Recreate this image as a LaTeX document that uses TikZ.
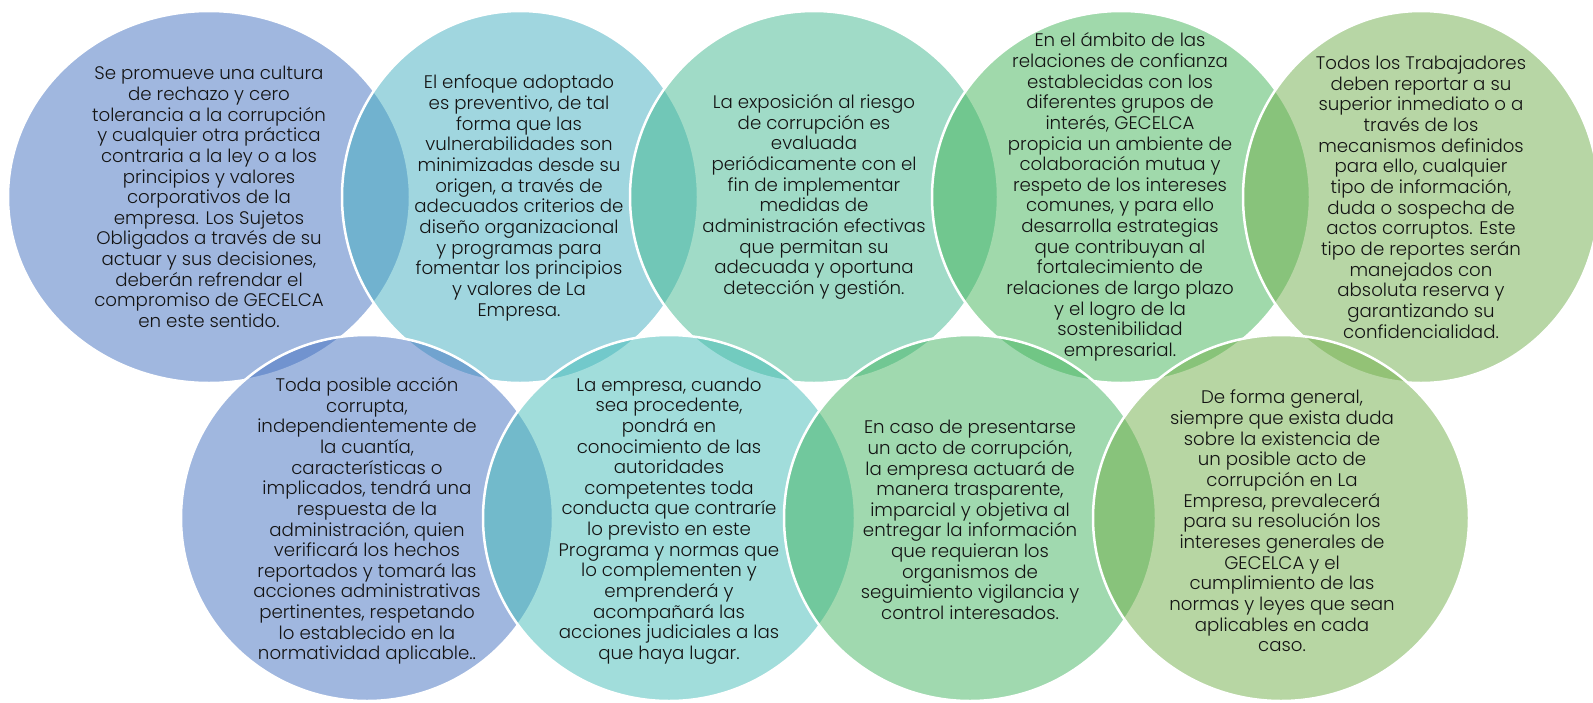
\documentclass[tikz,border=0pt]{standalone}
\usepackage{fontspec}
\setmainfont{Poppins}[UprightFont=* Light]
\usetikzlibrary{shapes.geometric}
\definecolor{cT1}{RGB}{67,113,193}
\definecolor{cT2}{RGB}{67,175,193}
\definecolor{cT3}{RGB}{67,185,145}
\definecolor{cT4}{RGB}{67,181,89}
\definecolor{cT5}{RGB}{113,175,77}
\definecolor{cB1}{RGB}{67,113,193}
\definecolor{cB2}{RGB}{69,189,185}
\definecolor{cB3}{RGB}{67,181,97}
\definecolor{cB4}{RGB}{113,175,73}
\definecolor{txt}{RGB}{20,20,20}
\tikzset{
  bubble/.style={ellipse, draw=white, line width=2.5pt, fill opacity=0.5, inner sep=0pt},
  label text/.style={align=center, text=txt, inner sep=0pt,
    font=\fontsize{18.2pt}{20.65pt}\selectfont}
}
\begin{document}
\begin{tikzpicture}[x=1pt,y=-1pt]
\clip (0,0) rectangle (1593,702);
\fill[white] (0,0) rectangle (1593,702);
% top row
\node[bubble, fill=cT1, minimum width=402pt, minimum height=372pt] (T1) at (209,197) {};
\node[bubble, fill=cT2, minimum width=356pt, minimum height=372pt] (T2) at (520,197) {};
\node[bubble, fill=cT3, minimum width=368pt, minimum height=372pt] (T3) at (814,197) {};
\node[bubble, fill=cT4, minimum width=378pt, minimum height=372pt] (T4) at (1121,197) {};
\node[bubble, fill=cT5, minimum width=356pt, minimum height=372pt] (T5) at (1421,197) {};
% bottom row
\node[bubble, fill=cB1, minimum width=372pt, minimum height=366pt] (B1) at (367,518) {};
\node[bubble, fill=cB2, minimum width=372pt, minimum height=366pt] (B2) at (669,518) {};
\node[bubble, fill=cB3, minimum width=372pt, minimum height=366pt] (B3) at (970,518) {};
\node[bubble, fill=cB4, minimum width=376pt, minimum height=366pt] (B4) at (1281,518) {};
% texts
\node[label text] (tT1) at (209,197) {Se promueve una cultura\\de rechazo y cero\\tolerancia a la corrupción\\y cualquier otra práctica\\contraria a la ley o a los\\principios y valores\\corporativos de la\\empresa. Los Sujetos\\Obligados a través de su\\actuar y sus decisiones,\\deberán refrendar el\\compromiso de GECELCA\\en este sentido.};
\node[label text] (tT2) at (519,198) {El enfoque adoptado\\es preventivo, de tal\\forma que las\\vulnerabilidades son\\minimizadas desde su\\origen, a través de\\adecuados criterios de\\diseño organizacional\\y programas para\\fomentar los principios\\y valores de La\\Empresa.};
\node[label text] (tT3) at (814,197) {La exposición al riesgo\\de corrupción es\\evaluada\\periódicamente con el\\fin de implementar\\medidas de\\administración efectivas\\que permitan su\\adecuada y oportuna\\detección y gestión.};
\node[label text] (tT4) at (1120,197) {En el ámbito de las\\relaciones de confianza\\establecidas con los\\diferentes grupos de\\interés, GECELCA\\propicia un ambiente de\\colaboración mutua y\\respeto de los intereses\\comunes, y para ello\\desarrolla estrategias\\que contribuyan al\\fortalecimiento de\\relaciones de largo plazo\\y el logro de la\\sostenibilidad\\empresarial.};
\node[label text] (tT5) at (1421,197) {Todos los Trabajadores\\deben reportar a su\\superior inmediato o a\\través de los\\mecanismos definidos\\para ello, cualquier\\tipo de información,\\duda o sospecha de\\actos corruptos. Este\\tipo de reportes serán\\manejados con\\absoluta reserva y\\garantizando su\\confidencialidad.};
\node[label text] (tB1) at (367,521) {Toda posible acción\\corrupta,\\independientemente de\\la cuantía,\\características o\\implicados, tendrá una\\respuesta de la\\administración, quien\\verificará los hechos\\reportados y tomará las\\acciones administrativas\\pertinentes, respetando\\lo establecido en la\\normatividad aplicable..};
\node[label text] (tB2) at (669,521) {La empresa, cuando\\sea procedente,\\pondrá en\\conocimiento de las\\autoridades\\competentes toda\\conducta que contraríe\\lo previsto en este\\Programa y normas que\\lo complementen y\\emprenderá y\\acompañará las\\acciones judiciales a las\\que haya lugar.};
\node[label text] (tB3) at (970,520) {En caso de presentarse\\un acto de corrupción,\\la empresa actuará de\\manera trasparente,\\imparcial y objetiva al\\entregar la información\\que requieran los\\organismos de\\seguimiento vigilancia y\\control interesados.};
\node[label text] (tB4) at (1282,521) {De forma general,\\siempre que exista duda\\sobre la existencia de\\un posible acto de\\corrupción en La\\Empresa, prevalecerá\\para su resolución los\\intereses generales de\\GECELCA y el\\cumplimiento de las\\normas y leyes que sean\\aplicables en cada\\caso.};
\end{tikzpicture}
\end{document}
